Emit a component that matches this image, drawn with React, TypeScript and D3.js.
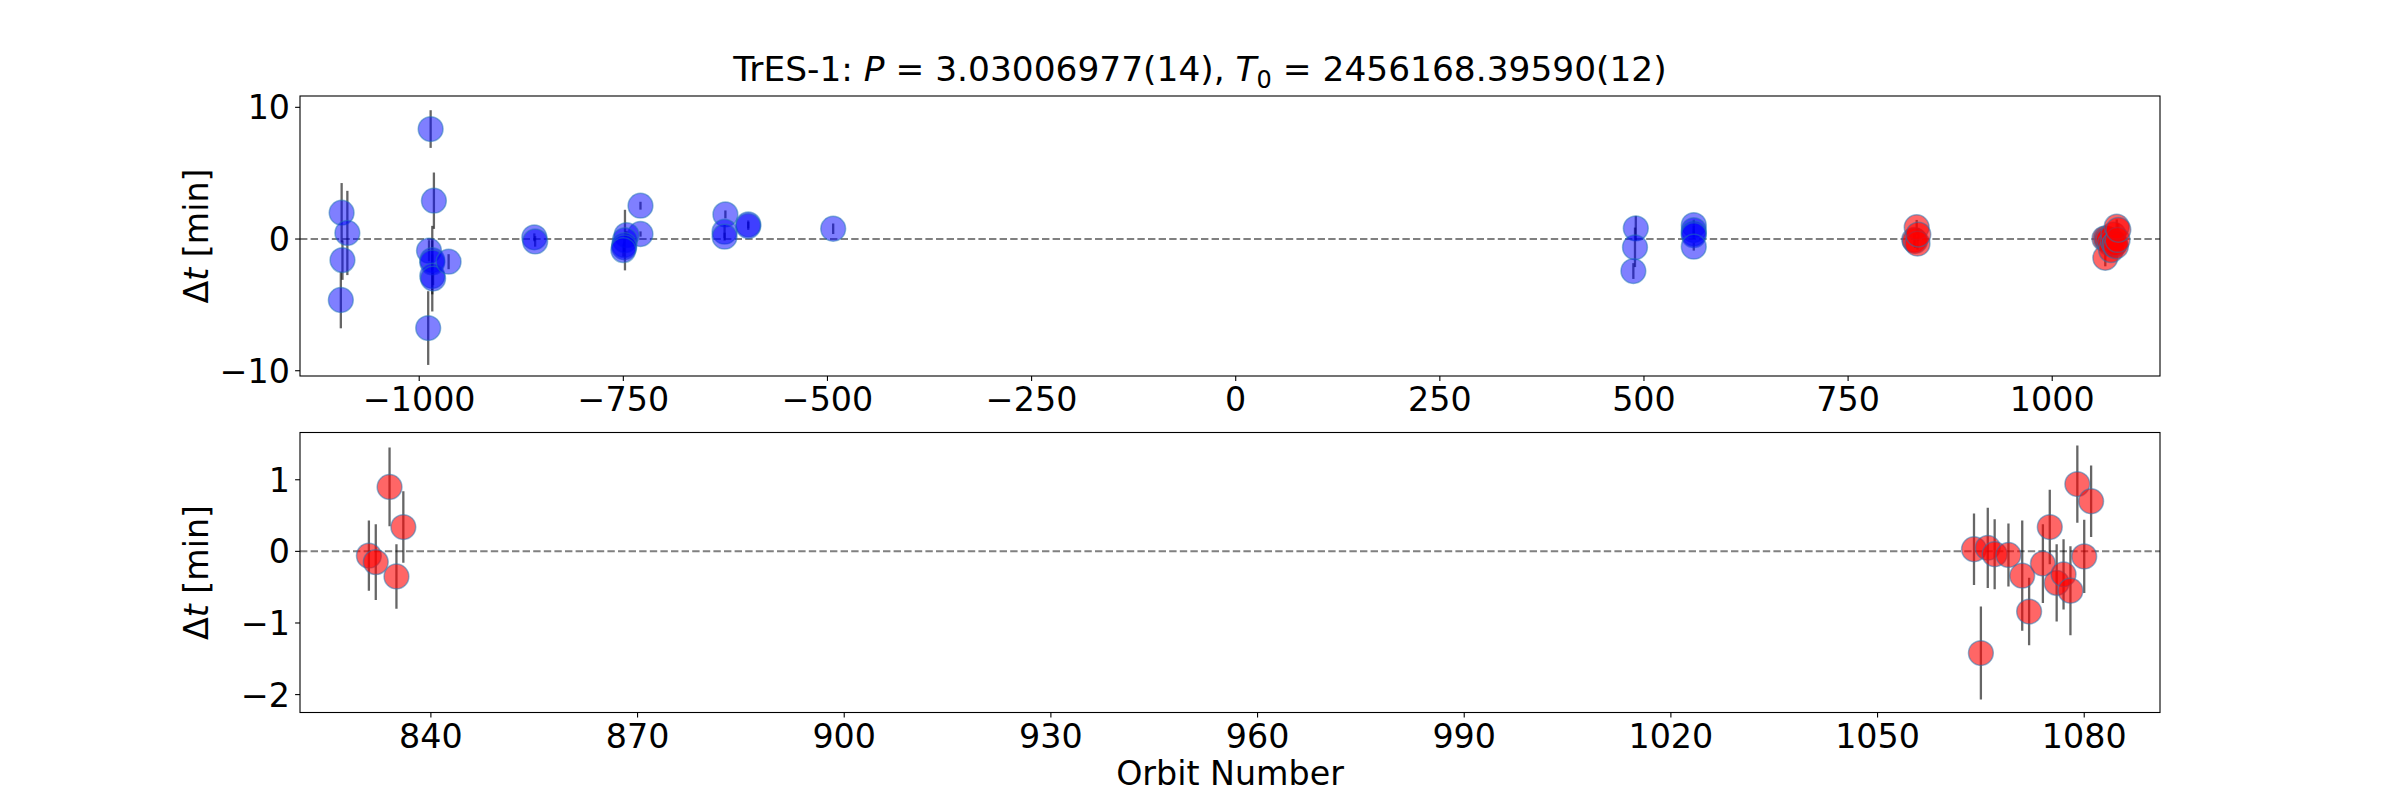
import React, { useRef, useEffect } from "react";
import { select, scaleLinear } from "d3";

// earlier transits (blue) - orbit number, O-C in minutes, 1-sigma
const blueOrbits = [
  -1095, -1088, -1094, -1096, -986, -982, -988, -984, -984, -984, -983, -964, -989,
  -859, -858, -729, -729, -746, -748, -749, -749, -750, -625, -626, -626, -597, -597,
  -493, 490, 489, 487, 561, 561, 561, 561, 561,
];
const blueDt = [
  2.0, 0.46, -1.6, -4.63, 8.35, 2.91, -0.89, -1.6, -1.77, -2.8, -3.0, -1.72, -6.76,
  0.13, -0.18, 2.53, 0.38, 0.3, -0.08, -0.46, -0.63, -0.84, 1.87, 0.56, 0.18, 1.11, 0.99,
  0.78, 0.81, -0.63, -2.43, 1.06, 0.68, 0.43, 0.3, -0.58,
];
const blueErr = [
  2.25, 3.2, 1.5, 2.15, 1.43, 2.14, 0.8, 2.6, 0.6, 2.7, 0.5, 0.57, 2.8,
  0.3, 0.4, 0.3, 0.2, 0.3, 2.3, 0.5, 0.4, 0.5, 0.3, 0.5, 0.3, 0.3, 0.3,
  0.4, 0.95, 1.5, 0.6, 0.4, 0.3, 0.3, 0.3, 0.3,
];

// new transits (red)
const redOrbits = [
  831, 832, 834, 835, 836, 1064, 1065, 1066, 1067, 1069, 1071, 1072, 1074, 1075, 1076,
  1077, 1078, 1079, 1080, 1081,
];
const redDt = [
  -0.06, -0.15, 0.9, -0.35, 0.34, 0.03, -1.42, 0.05, -0.04, -0.05, -0.34, -0.84, -0.17,
  0.34, -0.44, -0.32, -0.55, 0.94, -0.07, 0.7,
];
const redErr = [
  0.49, 0.53, 0.55, 0.45, 0.5, 0.5, 0.65, 0.56, 0.49, 0.44, 0.77, 0.47, 0.55, 0.52, 0.54,
  0.49, 0.62, 0.54, 0.51, 0.5,
];

const topXTicks = [-1000, -750, -500, -250, 0, 250, 500, 750, 1000];
const topYTicks = [-10, 0, 10];
const bottomXTicks = [840, 870, 900, 930, 960, 990, 1020, 1050, 1080];
const bottomYTicks = [-2, -1, 0, 1];

const FONT = "DejaVu Sans";
const FS = 33.3;

const minus = (v) => String(v).replace("-", "\u2212");

function App() {
  const d3Element = useRef(null);

  const drawPanel = (svg, opts) => {
    const { left, right, top, bottom, xDomain, yDomain, xTicks, yTicks, sets, id } = opts;
    const x = scaleLinear().domain(xDomain).range([left, right]);
    const y = scaleLinear().domain(yDomain).range([bottom, top]);

    svg
      .append("clipPath")
      .attr("id", id)
      .append("rect")
      .attr("x", left)
      .attr("y", top)
      .attr("width", right - left)
      .attr("height", bottom - top);

    const plot = svg.append("g").attr("clip-path", `url(#${id})`);

    // zero line
    plot
      .append("line")
      .attr("x1", left)
      .attr("x2", right)
      .attr("y1", y(0))
      .attr("y2", y(0))
      .attr("stroke", "#808080")
      .attr("stroke-width", 2)
      .attr("stroke-dasharray", "7.4,3.2");

    sets.forEach((s) => {
      const data = s.orbits.map((o, i) => ({ o, dt: s.dt[i], err: s.err[i] }));
      plot
        .selectAll(null)
        .data(data)
        .enter()
        .append("line")
        .attr("x1", (d) => x(d.o))
        .attr("x2", (d) => x(d.o))
        .attr("y1", (d) => y(d.dt - d.err))
        .attr("y2", (d) => y(d.dt + d.err))
        .attr("stroke", "#000")
        .attr("stroke-opacity", 0.6)
        .attr("stroke-width", 2.3);
      plot
        .selectAll(null)
        .data(data)
        .enter()
        .append("circle")
        .attr("cx", (d) => x(d.o))
        .attr("cy", (d) => y(d.dt))
        .attr("r", 12.4)
        .attr("fill", s.color)
        .attr("fill-opacity", s.alpha)
        .attr("stroke", "#1f77b4")
        .attr("stroke-opacity", 0.5)
        .attr("stroke-width", 1.5);
    });

    // frame
    svg
      .append("rect")
      .attr("x", left)
      .attr("y", top)
      .attr("width", right - left)
      .attr("height", bottom - top)
      .attr("fill", "none")
      .attr("stroke", "#000")
      .attr("stroke-width", 1.1);

    const xg = svg.append("g");
    xTicks.forEach((t) => {
      xg.append("line")
        .attr("x1", x(t))
        .attr("x2", x(t))
        .attr("y1", bottom)
        .attr("y2", bottom + 4.9)
        .attr("stroke", "#000")
        .attr("stroke-width", 1.1);
      xg.append("text")
        .attr("x", x(t))
        .attr("y", bottom + 35)
        .attr("text-anchor", "middle")
        .attr("font-family", FONT)
        .attr("font-size", FS)
        .text(minus(t));
    });

    const yg = svg.append("g");
    yTicks.forEach((t) => {
      yg.append("line")
        .attr("x1", left - 4.9)
        .attr("x2", left)
        .attr("y1", y(t))
        .attr("y2", y(t))
        .attr("stroke", "#000")
        .attr("stroke-width", 1.1);
      yg.append("text")
        .attr("x", left - 10)
        .attr("y", y(t))
        .attr("dy", "0.36em")
        .attr("text-anchor", "end")
        .attr("font-family", FONT)
        .attr("font-size", FS)
        .text(minus(t));
    });

    const cy = (top + bottom) / 2;
    const lab = svg
      .append("text")
      .attr("transform", `translate(${left - 92},${cy}) rotate(-90)`)
      .attr("text-anchor", "middle")
      .attr("font-family", FONT)
      .attr("font-size", FS);
    lab.append("tspan").text("\u0394");
    lab.append("tspan").attr("font-style", "italic").text("t");
    lab.append("tspan").text(" [min]");
  };

  useEffect(() => {
    const svg = select(d3Element.current);
    svg.selectAll("*").remove();

    const left = 300;
    const right = 2160;

    drawPanel(svg, {
      id: "clipTop",
      left,
      right,
      top: 96,
      bottom: 376,
      xDomain: [-1146, 1132],
      yDomain: [-10.4, 10.86],
      xTicks: topXTicks,
      yTicks: topYTicks,
      sets: [
        { orbits: blueOrbits, dt: blueDt, err: blueErr, color: "blue", alpha: 0.5 },
        { orbits: redOrbits, dt: redDt, err: redErr, color: "red", alpha: 0.6 },
      ],
    });

    drawPanel(svg, {
      id: "clipBottom",
      left,
      right,
      top: 432.5,
      bottom: 712.5,
      xDomain: [821, 1091],
      yDomain: [-2.25, 1.66],
      xTicks: bottomXTicks,
      yTicks: bottomYTicks,
      sets: [{ orbits: redOrbits, dt: redDt, err: redErr, color: "red", alpha: 0.6 }],
    });

    // title (centred on the figure, like a suptitle)
    const title = svg
      .append("text")
      .attr("x", 1200)
      .attr("y", 81)
      .attr("text-anchor", "middle")
      .attr("font-family", FONT)
      .attr("font-size", 34.4);
    title.append("tspan").text("TrES-1: ");
    title.append("tspan").attr("font-style", "italic").text("P");
    title.append("tspan").text(" = 3.03006977(14), ");
    title.append("tspan").attr("font-style", "italic").text("T");
    title.append("tspan").attr("font-size", 24).attr("dy", 7).text("0");
    title.append("tspan").attr("dy", -7).text(" = 2456168.39590(12)");

    svg
      .append("text")
      .attr("x", (left + right) / 2)
      .attr("y", 785)
      .attr("text-anchor", "middle")
      .attr("font-family", FONT)
      .attr("font-size", FS)
      .text("Orbit Number");
  }, []);

  return (
    <div style={{ position: "absolute", left: 0, top: 0 }}>
      <svg ref={d3Element} width="2400" height="800" style={{ display: "block", background: "#fff" }}></svg>
    </div>
  );
}

export default App;
